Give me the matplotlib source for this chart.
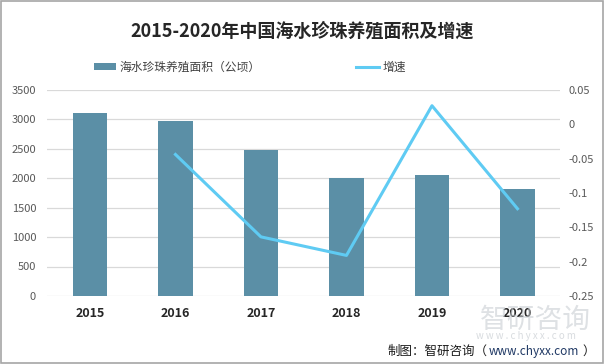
import matplotlib.pyplot as plt
import numpy as np

plt.rcParams['font.family'] = ['Noto Sans CJK SC', 'DejaVu Sans']

years = ['2015', '2016', '2017', '2018', '2019', '2020']
area = [3107, 2970, 2476, 1998, 2049, 1810]
growth = [None, -0.044, -0.164, -0.191, 0.027, -0.123]
left_ticks = [0, 500, 1000, 1500, 2000, 2500, 3000, 3500]
right_ticks = [-0.25, -0.2, -0.15, -0.1, -0.05, 0, 0.05]
right_labels = ['-0.25', '-0.2', '-0.15', '-0.1', '-0.05', '0', '0.05']

bar_color = '#5b8fa6'
line_color = '#5fcbf3'
tick_color = '#595959'

fig = plt.figure(figsize=(6.05, 3.64), dpi=100)
ax = fig.add_axes([0.078, 0.187, 0.848, 0.566])
ax2 = ax.twinx()

x = np.arange(len(years))
bars = ax.bar(x, area, width=0.4, color=bar_color, zorder=2, label='海水珍珠养殖面积（公顷）')
gx = [i for i, g in enumerate(growth) if g is not None]
gy = [g for g in growth if g is not None]
line, = ax2.plot(gx, gy, color=line_color, lw=2.2, zorder=3, label='增速')

ax.set_xlim(-0.5, len(years) - 0.5)
ax.set_ylim(0, 3500)
ax.set_yticks(left_ticks)
ax.set_yticklabels([str(t) for t in left_ticks])
ax2.set_ylim(-0.25, 0.05)
ax2.set_yticks(right_ticks)
ax2.set_yticklabels(right_labels)

ax.grid(axis='y', color='#d9d9d9', lw=0.9, zorder=0)
ax.set_axisbelow(True)
for a in (ax, ax2):
    for s in a.spines.values():
        s.set_visible(False)
    a.tick_params(length=0, labelsize=8, colors=tick_color)
ax.tick_params(axis='y', pad=8)
ax2.tick_params(axis='y', pad=6)
ax.set_xticks(x)
ax.set_xticklabels(years, fontweight='bold', fontsize=9, color='#262626')
ax.tick_params(axis='x', pad=8)

fig.text(0.5, 0.915, '2015-2020年中国海水珍珠养殖面积及增速', ha='center', va='center',
         fontsize=13, fontweight='bold', color='#262626')

fig.legend(handles=[bars, line], loc='center', bbox_to_anchor=(0.413, 0.815), ncol=2,
           frameon=False, fontsize=8.5, columnspacing=8.1, handlelength=1.9,
           handletextpad=0.3, handleheight=0.6, labelcolor='#404040')

# watermark
fig.text(0.885, 0.122, '智研咨询', ha='center', va='center', fontsize=20,
         color='#c8cdd2', alpha=0.6, zorder=0)
fig.text(0.87, 0.078, 'w w w . c h y x x . c o m', ha='center', va='center', fontsize=7,
         color='#c8cdd2', alpha=0.7, zorder=0)

fig.text(0.64, 0.035, '制图：智研咨询（', ha='left', va='center', fontsize=9, color='#1a1a1a')
fig.text(0.808, 0.035, 'www.chyxx.com', ha='left', va='center', fontsize=8.5, color='#1f3864')
fig.text(0.962, 0.035, '）', ha='left', va='center', fontsize=9, color='#1a1a1a')

fig.patches.append(plt.Rectangle((0.002, 0.003), 0.995, 0.994, transform=fig.transFigure,
                                 fill=False, edgecolor='#a6a6a6', lw=1.2))

fig.savefig('out.png', dpi=100)
